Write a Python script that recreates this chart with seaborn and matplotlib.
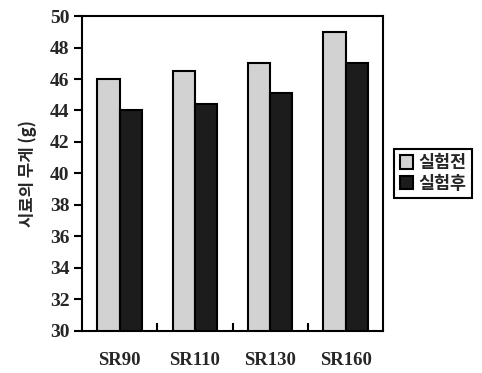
import matplotlib
matplotlib.use("Agg")
import matplotlib.pyplot as plt
import seaborn as sns
import pandas as pd
from matplotlib.ticker import FixedLocator

categories = ["SR90", "SR110", "SR130", "SR160"]
series_names = ["실험전", "실험후"]
before_vals = [46.0, 46.5, 47.0, 49.0]
after_vals = [44.0, 44.4, 45.1, 47.0]
y_ticks = [30, 32, 34, 36, 38, 40, 42, 44, 46, 48, 50]

df = pd.DataFrame({
    "cat": categories * 2,
    "series": [series_names[0]] * 4 + [series_names[1]] * 4,
    "value": before_vals + after_vals,
})

sns.set_theme(style="white")
plt.rcParams["font.family"] = ["Liberation Serif", "Noto Sans CJK KR"]

fig = plt.figure(figsize=(4.82, 3.73), dpi=100)
ax = fig.add_axes([0.170, 0.113, 0.625, 0.844])

palette = {series_names[0]: "#d2d2d2", series_names[1]: "#1c1c1c"}
sns.barplot(data=df, x="cat", y="value", hue="series", palette=palette,
            width=0.59, dodge=True, ax=ax, edgecolor="black", linewidth=1.5,
            saturation=1, legend=True)

ax.set_ylim(30, 50)
ax.set_xlim(-0.5, 3.5)
ax.set_yticks(y_ticks)
ax.set_yticklabels([str(t) for t in y_ticks], fontsize=14, fontweight="bold",
                   family="Liberation Serif")
ax.set_xticks(range(len(categories)))
ax.set_xticklabels(categories, fontsize=13.5, fontweight="bold", family="Liberation Serif")
ax.tick_params(axis="x", which="major", length=0, pad=15)
ax.xaxis.set_minor_locator(FixedLocator([0.5, 1.5, 2.5]))
ax.tick_params(axis="x", which="minor", direction="in", length=6, width=1.5, color="black", bottom=True)
ax.tick_params(axis="y", direction="out", length=6, width=1.5, color="black", left=True, pad=3)
for s in ax.spines.values():
    s.set_color("black")
    s.set_linewidth(1.5)

ax.set_xlabel("")
ax.set_ylabel("시료의 무게 (g)", fontsize=12, fontweight="bold",
              family=["Noto Sans CJK KR", "DejaVu Sans"], labelpad=9)

handles, labels = ax.get_legend_handles_labels()
ax.legend(handles, labels, loc="center left", bbox_to_anchor=(1.037, 0.5),
          frameon=True, fancybox=False, edgecolor="black", framealpha=1,
          prop={"family": "Noto Sans CJK KR", "weight": "bold", "size": 12.5},
          handlelength=0.8, handleheight=0.8, handletextpad=0.3,
          borderpad=0.3, labelspacing=0.15, borderaxespad=0)
ax.get_legend().get_frame().set_linewidth(1.5)

fig.savefig("out.png", dpi=100)
